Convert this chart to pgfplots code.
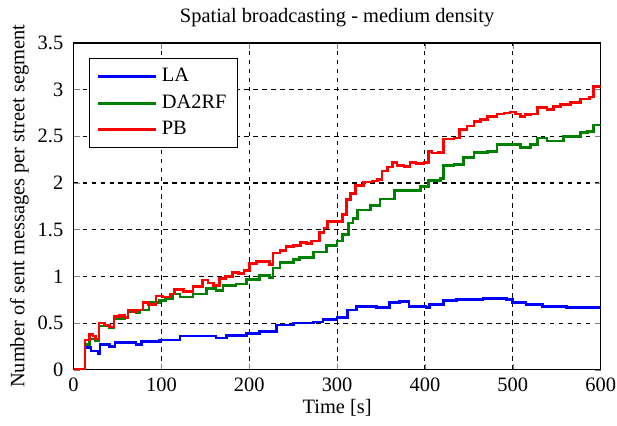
\documentclass[border=0pt]{standalone}
\usepackage{fontspec}
\setmainfont{Liberation Serif}
\usepackage{pgfplots}
\pgfplotsset{compat=1.18}
\definecolor{mblue}{rgb}{0,0,1}
\definecolor{mgreen}{rgb}{0,0.5,0}
\definecolor{mred}{rgb}{1,0,0}
\begin{document}
\begin{tikzpicture}
\begin{axis}[
  scale only axis,
  width=258pt, height=160pt,
  xmin=0, xmax=600, ymin=0, ymax=3.5,
  xtick={0,100,...,600},
  ytick={0,0.5,...,3.5},
  yticklabels={0,0.5,1,1.5,2,2.5,3,3.5},
  /pgf/number format/assume math mode=true,
  tick align=inside,
  xtick pos=both, ytick pos=both,
  major tick length=3pt,
  grid=major,
  major grid style={black, dash pattern=on 2.2pt off 2.2pt, line width=0.5pt},
  axis line style={black, line width=0.6pt},
  title={Spatial broadcasting - medium density},
  title style={at={(axis description cs:0.5,1)}, anchor=center, yshift=6.5pt, inner sep=0pt},
  xlabel={Time [s]},
  ylabel={Number of sent messages per street segment},
  xlabel style={at={(axis description cs:0.5,0)}, anchor=center, yshift=-18.8pt, inner sep=0pt},
  ylabel style={at={([xshift=-26.5pt]axis description cs:0,0.5)}, anchor=center, inner sep=0pt},
  yticklabel style={xshift=-1.5pt},
  xticklabel style={yshift=-0.5pt, inner xsep=0pt},
  legend style={at={(0.029,0.955)}, anchor=north west, draw=black, line width=0.6pt,
    row sep=0.8pt, inner xsep=3.5pt, inner ysep=3pt, cells={anchor=west}},
  legend image code/.code={\draw[#1, line width=1.5pt] (0cm,0cm) -- (1.0cm,0cm);},
  every axis plot/.append style={const plot, line width=1.3pt},
]
\addplot[mblue] coordinates {
(0,0) (13,0) (13,0.24) (20,0.20) (28,0.17) (30,0.27) (41,0.25) (47,0.29) (60,0.29)
(71,0.27) (77,0.30) (98,0.32) (121,0.36) (136,0.36) (162,0.34) (174,0.37) (197,0.39)
(212,0.41) (223,0.41) (231,0.48) (250,0.50) (273,0.51) (284,0.54) (300,0.56) (312,0.64)
(322,0.68) (345,0.67) (360,0.72) (371,0.73) (382,0.68) (401,0.67) (405,0.70) (421,0.74)
(436,0.75) (466,0.76) (493,0.75) (500,0.72) (515,0.70) (534,0.68) (561,0.67) (580,0.67) (600,0.68)
};
\addlegendentry{LA}
\addplot[mgreen] coordinates {
(0,0) (13,0) (13,0.27) (18,0.33) (25,0.31) (29,0.47) (41,0.45) (46,0.55) (58,0.56)
(62,0.62) (71,0.61) (75,0.64) (86,0.72) (98,0.74) (105,0.76) (113,0.81) (121,0.78)
(136,0.81) (151,0.87) (162,0.85) (170,0.90) (185,0.92) (197,0.97) (212,1.01) (223,0.99)
(227,1.09) (235,1.15) (250,1.18) (257,1.20) (273,1.26) (288,1.33) (300,1.38) (306,1.45)
(313,1.57) (318,1.62) (323,1.71) (338,1.76) (349,1.83) (365,1.92) (380,1.92) (395,1.96)
(404,2.03) (418,2.05) (421,2.19) (433,2.20) (444,2.27) (456,2.33) (471,2.34) (482,2.41)
(497,2.41) (509,2.38) (520,2.41) (528,2.48) (539,2.45) (558,2.50) (577,2.54) (585,2.55)
(592,2.62) (600,2.63)
};
\addlegendentry{DA2RF}
\addplot[mred] coordinates {
(0,0) (13,0) (13,0.32) (18,0.38) (22,0.36) (25,0.33) (29,0.50) (35,0.48) (41,0.46)
(46,0.57) (52,0.58) (58,0.56) (62,0.64) (68,0.62) (71,0.64) (79,0.72) (85,0.70) (94,0.79)
(102,0.78) (110,0.81) (115,0.86) (125,0.84) (136,0.89) (147,0.96) (153,0.93) (159,0.90)
(166,0.98) (173,1.00) (181,1.04) (188,1.03) (194,1.06) (200,1.14) (208,1.16) (215,1.16)
(223,1.13) (227,1.25) (235,1.28) (242,1.32) (250,1.33) (258,1.36) (265,1.35) (271,1.38)
(280,1.47) (285,1.52) (289,1.59) (300,1.59) (306,1.66) (311,1.82) (315,1.89) (321,1.97)
(330,2.01) (340,2.02) (346,2.04) (351,2.13) (357,2.17) (363,2.22) (368,2.19) (376,2.18)
(383,2.22) (390,2.21) (399,2.22) (404,2.34) (408,2.32) (415,2.33) (421,2.47) (433,2.48)
(439,2.57) (448,2.61) (456,2.66) (463,2.68) (471,2.71) (482,2.74) (490,2.75) (497,2.76)
(503,2.74) (509,2.71) (514,2.73) (520,2.74) (528,2.81) (539,2.79) (546,2.82) (554,2.84)
(566,2.86) (577,2.90) (587,2.92) (592,3.03) (600,3.04)
};
\addlegendentry{PB}
\end{axis}
\path ([xshift=-36pt,yshift=-27.5pt]current axis.south west) rectangle ([xshift=8pt,yshift=21pt]current axis.north east);
\end{tikzpicture}
\end{document}
